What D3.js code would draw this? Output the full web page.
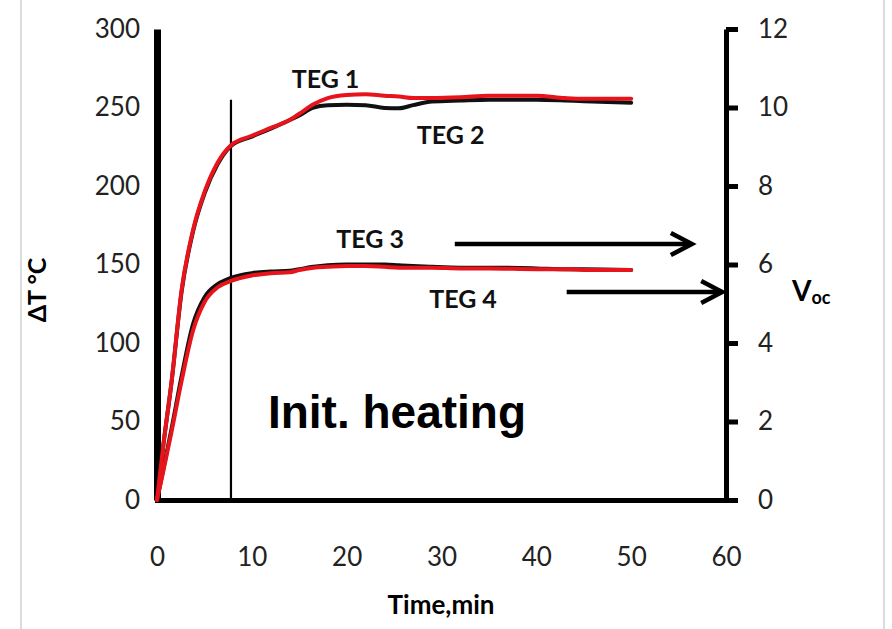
<!DOCTYPE html>
<html>
<head>
<meta charset="utf-8">
<script src="https://cdn.jsdelivr.net/npm/d3@7"></script>
<style>
    body { margin: 0; background: #fff; }
    text { font-family: Lato, "Open Sans", sans-serif; }
</style>
</head>
<body>
<div id="chart"></div>
<script>
"use strict";

// time axis (min) shared by all four series
const time = [0, 0.65, 1.55, 2.6, 3.8, 5, 6.4, 7.8, 10, 12, 14, 15, 16.5, 18, 20, 22, 24, 25.5, 27, 29, 32, 35, 40, 43, 45, 50];

// delta T readings, degC
const teg1 = [0, 34, 76, 134, 172, 196, 215, 226, 232, 237, 242, 246, 252, 256, 258, 258.5, 257.5, 257, 256, 256, 256.5, 257.5, 257.5, 256, 255.5, 255.5];
const teg2 = [0, 34, 76, 133, 171, 195, 214, 225.5, 231.5, 236.5, 242, 245, 250, 251.5, 251.8, 251.5, 249.7, 249.5, 251.5, 253.8, 254.5, 255, 255, 254.5, 254, 253];
const teg3 = [0, 19, 46, 79, 112, 129, 137.5, 141.5, 144.5, 145.5, 146, 147, 148.5, 149.5, 150, 150, 150, 149.5, 149, 148.5, 148, 148, 147.5, 147, 147, 146.5];
const teg4 = [0, 18, 44, 76, 108, 126, 135.5, 139.5, 143, 144.5, 145, 146.5, 148, 148.5, 149, 149, 148.5, 148, 148, 148, 147.5, 147.5, 147, 147, 146.5, 146.5];

// tick values
const xTicks = [0, 10, 20, 30, 40, 50, 60];
const yTicks = [0, 50, 100, 150, 200, 250, 300];
const y2Ticks = [0, 2, 4, 6, 8, 10, 12];

// end of initial heating marker (time, top of line in degC)
const initHeating = { t: 7.8, top: 255 };

// labels in data coordinates (start of text, baseline)
const labels = [
    { text: "TEG 1", t: 14.2, v: 262.5 },
    { text: "TEG 2", t: 27.4, v: 226.8 },
    { text: "TEG 3", t: 18.9, v: 160.5 },
    { text: "TEG 4", t: 28.7, v: 122.3 }
];

// arrows pointing to the Voc axis (time from, time to, degC)
const arrows = [
    { t0: 31.4, t1: 56.4, v: 163 },
    { t0: 43.2, t1: 59.6, v: 132.5 }
];

const msm = {
    width: 892,
    height: 629,
    left: 157,
    right: 726,
    top: 29,
    bottom: 500
};

const svg = d3.select("#chart")
    .append("svg")
    .attr("width", msm.width)
    .attr("height", msm.height);

// faint chart frame at the sides
svg.append("line").attr("x1", 21).attr("x2", 21).attr("y1", 0).attr("y2", msm.height)
    .attr("stroke", "#d0d0d0").attr("stroke-width", 1.5);
svg.append("line").attr("x1", 884).attr("x2", 884).attr("y1", 0).attr("y2", msm.height)
    .attr("stroke", "#d0d0d0").attr("stroke-width", 1.5);

const x = d3.scaleLinear().domain([0, 60]).range([msm.left, msm.right]);
const y = d3.scaleLinear().domain([0, 300]).range([msm.bottom, msm.top]);
const y2 = d3.scaleLinear().domain([0, 12]).range([msm.bottom, msm.top]);

// bottom axis
const gx = svg.append("g")
    .attr("transform", "translate(0," + msm.bottom + ")")
    .call(d3.axisBottom(x).tickValues(xTicks).tickSize(0).tickPadding(48));

// left axis
const gy = svg.append("g")
    .attr("transform", "translate(" + msm.left + ",0)")
    .call(d3.axisLeft(y).tickValues(yTicks).tickSize(0).tickPadding(17));

// right axis
const gy2 = svg.append("g")
    .attr("transform", "translate(" + msm.right + ",0)")
    .call(d3.axisRight(y2).tickValues(y2Ticks).tickSize(12).tickSizeOuter(0).tickPadding(20));

[gx, gy, gy2].forEach(g => {
    g.selectAll("text")
        .style("font-size", "26px")
        .attr("fill", "#222");
});
gx.select(".domain").attr("stroke", "#000").attr("stroke-width", 5).attr("stroke-linecap", "square");
gy.select(".domain").attr("stroke", "#000").attr("stroke-width", 7);
gy2.select(".domain").attr("stroke", "#000").attr("stroke-width", 5);
gy2.selectAll(".tick line").attr("stroke", "#000").attr("stroke-width", 5);

// init heating marker
svg.append("line")
    .attr("x1", x(initHeating.t)).attr("x2", x(initHeating.t))
    .attr("y1", y(initHeating.top)).attr("y2", y(0))
    .attr("stroke", "#000")
    .attr("stroke-width", 2.2);

// series
const line = d3.line()
    .x((d, i) => x(time[i]))
    .y(d => y(d))
    .curve(d3.curveMonotoneX);

const series = [
    { values: teg2, color: "#111" },
    { values: teg3, color: "#111" },
    { values: teg1, color: "#e8141b" },
    { values: teg4, color: "#e8141b" }
];

svg.selectAll(".series")
    .data(series)
    .enter()
    .append("path")
    .attr("class", "series")
    .attr("d", d => line(d.values))
    .attr("fill", "none")
    .attr("stroke", d => d.color)
    .attr("stroke-width", 4)
    .attr("stroke-linecap", "round")
    .attr("stroke-linejoin", "round");

// TEG labels
svg.selectAll(".teg")
    .data(labels)
    .enter()
    .append("text")
    .attr("class", "teg")
    .attr("x", d => x(d.t))
    .attr("y", d => y(d.v))
    .style("font-size", "25px")
    .style("font-weight", "bold")
    .attr("fill", "#111")
    .text(d => d.text);

// arrows
arrows.forEach(a => {
    let xe = x(a.t1), ye = y(a.v);
    svg.append("line")
        .attr("x1", x(a.t0)).attr("x2", xe - 2)
        .attr("y1", ye).attr("y2", ye)
        .attr("stroke", "#000").attr("stroke-width", 4.5);
    svg.append("path")
        .attr("d", "M" + (xe - 21) + "," + (ye - 11) + "L" + xe + "," + ye + "L" + (xe - 21) + "," + (ye + 11))
        .attr("fill", "none")
        .attr("stroke", "#000")
        .attr("stroke-width", 4.5);
});

// Init. heating
svg.append("text")
    .attr("x", x(11.7))
    .attr("y", y(45.9))
    .style("font-family", "'Liberation Sans', Arial, sans-serif")
    .style("font-size", "46px")
    .style("font-weight", "bold")
    .text("Init. heating");

// axis titles
svg.append("text")
    .attr("transform", "translate(46,290) rotate(-90)")
    .attr("text-anchor", "middle")
    .style("font-size", "25px")
    .style("font-weight", "bold")
    .text("\u0394T \u00b0C");

svg.append("text")
    .attr("x", 441)
    .attr("y", 614)
    .attr("text-anchor", "middle")
    .style("font-size", "26px")
    .style("font-weight", "bold")
    .text("Time,min");

let voc = svg.append("text")
    .attr("x", 792)
    .attr("y", 301)
    .style("font-size", "28px")
    .style("font-weight", "bold")
    .text("V");
voc.append("tspan")
    .attr("dy", 3)
    .style("font-size", "18px")
    .text("oc");
</script>
</body>
</html>
